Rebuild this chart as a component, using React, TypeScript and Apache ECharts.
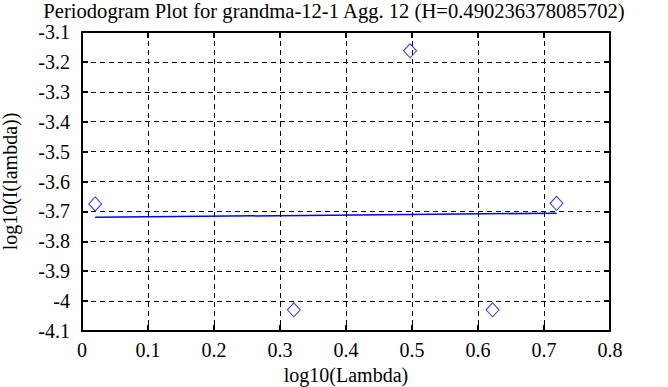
import React, { useEffect, useRef } from "react";
import * as echarts from "echarts";

const titleText = "Periodogram Plot for grandma-12-1 Agg. 12 (H=0.490236378085702)";
const xName = "log10(Lambda)";
const yName = "log10(I(lambda))";

const pointX = [0.0200, 0.3210, 0.4971, 0.6221, 0.7190];
const pointY = [-3.675, -4.029, -3.163, -4.029, -3.673];

const fitX = [0.0200, 0.7190];
const fitY = [-3.7197, -3.7060];

const FONT = "'Liberation Serif', 'DejaVu Serif', serif";

export default function App() {
  const ref = useRef<HTMLDivElement>(null);
  useEffect(() => {
    if (!ref.current) return;
    const chart = echarts.init(ref.current, null, { renderer: "svg" });
    const fmt = (v: number) => String(parseFloat(v.toFixed(2)));
    const axisBase = {
      type: "value" as const,
      axisLine: { show: true, onZero: false, lineStyle: { color: "#000", width: 2 } },
      axisTick: { show: true, inside: true, length: 6, lineStyle: { color: "#000", width: 2 } },
    };
    chart.setOption({
      animation: false,
      backgroundColor: "#fff",
      title: {
        text: titleText,
        left: "center",
        top: -5,
        textStyle: { fontFamily: FONT, fontSize: 20.6, fontWeight: "normal", color: "#000" },
      },
      grid: { left: 82, right: 58, top: 32, bottom: 56, containLabel: false, outerBoundsMode: "none" },
      xAxis: [
        {
          ...axisBase,
          min: 0,
          max: 0.8,
          interval: 0.1,
          position: "bottom",
          name: xName,
          nameLocation: "middle",
          nameGap: 33,
          nameTextStyle: { fontFamily: FONT, fontSize: 20, color: "#000" },
          axisLabel: { fontFamily: FONT, fontSize: 20, color: "#000", margin: 9, formatter: fmt },
          splitLine: { show: true, lineStyle: { color: "#000", type: [5, 4], width: 1 } },
        },
        {
          ...axisBase,
          min: 0,
          max: 0.8,
          interval: 0.1,
          position: "top",
          axisLabel: { show: false },
          splitLine: { show: false },
        },
      ],
      yAxis: [
        {
          ...axisBase,
          min: -4.1,
          max: -3.1,
          interval: 0.1,
          position: "left",
          name: yName,
          nameLocation: "middle",
          nameGap: 62,
          nameRotate: 90,
          nameTextStyle: { fontFamily: FONT, fontSize: 20, color: "#000" },
          axisLabel: { fontFamily: FONT, fontSize: 20, color: "#000", margin: 12, formatter: fmt },
          splitLine: { show: true, lineStyle: { color: "#000", type: [5, 4], width: 1 } },
        },
        {
          ...axisBase,
          min: -4.1,
          max: -3.1,
          interval: 0.1,
          position: "right",
          axisLabel: { show: false },
          splitLine: { show: false },
        },
      ],
      series: [
        {
          type: "line",
          data: fitX.map((x, i) => [x, fitY[i]]),
          symbol: "none",
          lineStyle: { color: "#0000ff", width: 1.5 },
          z: 3,
        },
        {
          type: "scatter",
          data: pointX.map((x, i) => [x, pointY[i]]),
          symbol: "diamond",
          symbolSize: [13, 14],
          itemStyle: { color: "rgba(0,0,0,0)", borderColor: "#0000ff", borderWidth: 1 },
          z: 4,
        },
      ],
    });
    return () => chart.dispose();
  }, []);
  return (
    <div
      ref={ref}
      style={{ position: "fixed", left: 0, top: 0, width: 668, height: 387, background: "#fff" }}
    />
  );
}
